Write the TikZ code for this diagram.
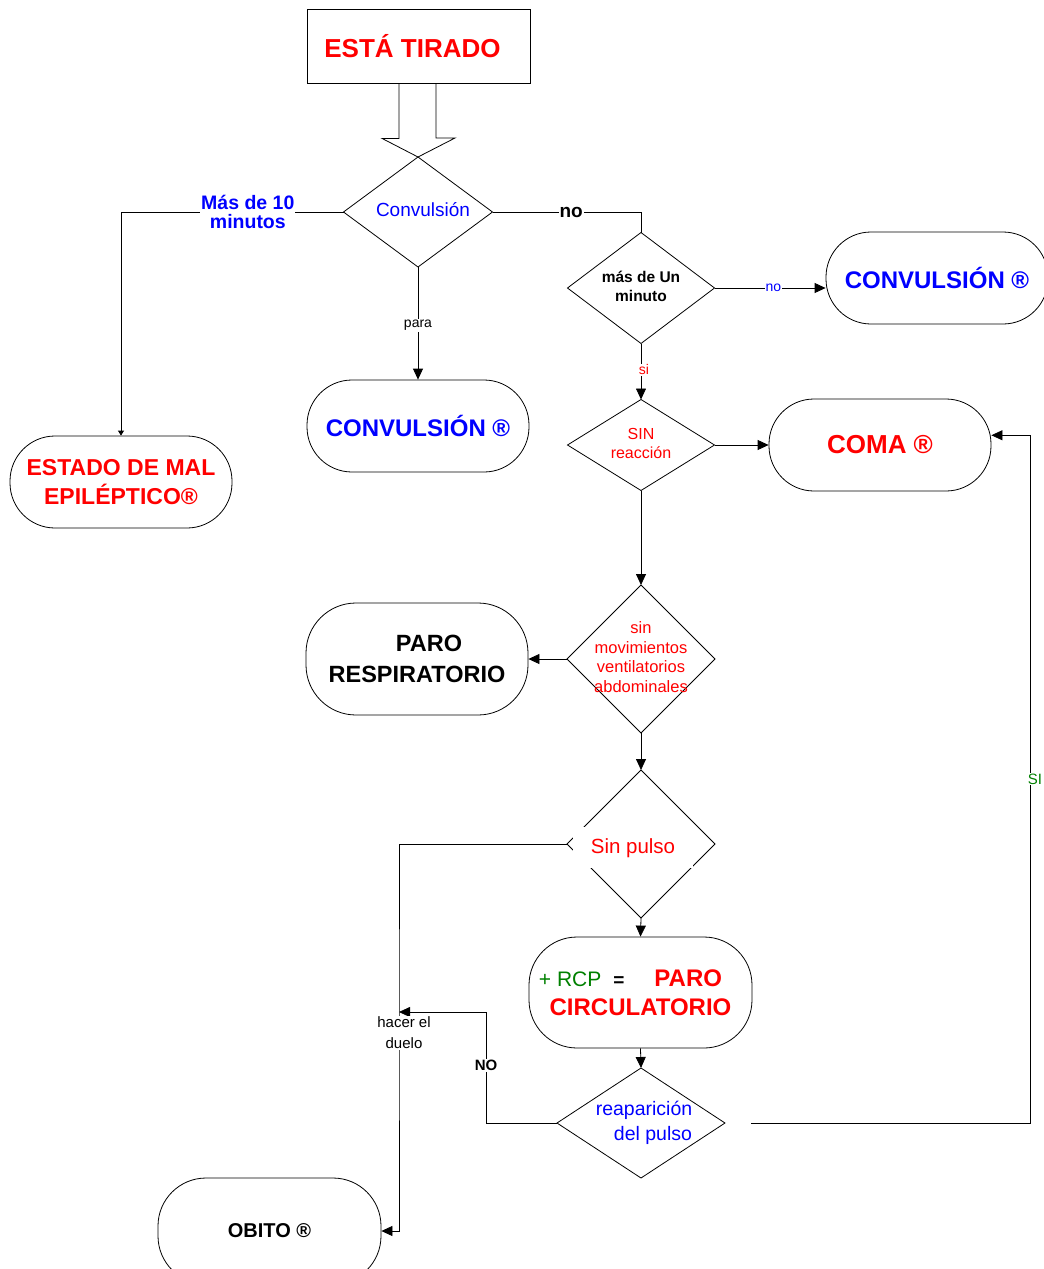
\documentclass[tikz,border=0pt]{standalone}
\usepackage{fontspec}
\setmainfont{Liberation Sans}
\usepackage{xcolor}
\usetikzlibrary{shapes.geometric,arrows.meta}
\definecolor{dkgreen}{RGB}{0, 128, 0}
\newcommand{\dtext}[1]{\makebox[0pt]{\begin{tabular}{@{}c@{}}#1\end{tabular}}}

\begin{document}
\begin{tikzpicture}[x=1pt,y=1pt,yscale=-1,xscale=1,line width=0.8pt,
  startbox/.style={draw, rectangle, minimum width=223, minimum height=74, inner sep=0pt},
  term/.style={draw, rectangle, rounded corners=45pt, minimum width=222, minimum height=92, inner sep=0pt, align=center, font=\bfseries},
  decision/.style={draw, diamond, inner sep=0pt, outer sep=0pt},
  arr/.style={-{Triangle[length=11pt,width=10pt]}},
  lbl/.style={fill=white, inner sep=1pt, align=center}]
\useasboundingbox (0,0) rectangle (1044,1269);

%Start box and its block arrow
\node[startbox, text=red, font=\fontsize{26}{30}\selectfont\bfseries] (tirado) at (418.5,46) {ESTÁ TIRADO\hspace*{12pt}};
\node[decision, minimum width=149, minimum height=110, text=blue, font=\fontsize{19}{22}\selectfont] (dConv) at (418,212) {\dtext{\hspace*{10pt}Convulsión}};
\draw (tirado.south) ++(-19.5,0) -- ++(0,55) -- ++(-17,0) -- (dConv.north) -- ++(37,-19) -- ++(-19,0) -- ++(0,-55);

%Terminals
\node[term, text=red, font=\fontsize{23}{29}\selectfont\bfseries] (tEstado) at (121,482) {ESTADO DE MAL\\EPILÉPTICO®};
\node[term, text=blue, font=\fontsize{24}{28}\selectfont\bfseries] (tConvA) at (418,426) {CONVULSIÓN ®};
\node[term, text=blue, font=\fontsize{24}{28}\selectfont\bfseries] (tConvB) at (937,278) {CONVULSIÓN ®};
\node[term, text=red, font=\fontsize{26}{30}\selectfont\bfseries] (tComa) at (880,445) {COMA ®};
\node[term, minimum height=112, rounded corners=50pt, font=\fontsize{23.5}{31}\selectfont\bfseries] (tResp) at (417,659) {\hspace*{24pt}PARO\\RESPIRATORIO};
\node[term, minimum width=223, minimum height=111, rounded corners=48pt, text=red, font=\fontsize{24}{29}\selectfont\bfseries] (tCirc) at (640.5,992.5) {{\color{dkgreen}\mdseries\fontsize{21}{29}\selectfont + RCP}\hspace{12pt}{\color{black}\fontsize{19}{29}\selectfont =}\hspace{30pt}PARO\hspace*{20pt}\\CIRCULATORIO};
\node[term, minimum width=223, minimum height=106, rounded corners=48pt, font=\fontsize{20}{24}\selectfont\bfseries] (tObito) at (269.5,1231) {OBITO ®};

%Decisions
\node[decision, minimum width=147, minimum height=111, font=\fontsize{15.5}{19}\selectfont\bfseries] (dMin) at (641,288) {\dtext{más de Un\\minuto}};
\node[decision, minimum width=147, minimum height=91, text=red, font=\fontsize{16}{19}\selectfont] (dSin) at (641,445) {\dtext{SIN\\reacción}};
\node[decision, minimum width=148, minimum height=148, text=red, font=\fontsize{16.5}{19.5}\selectfont] (dMov) at (641,659) {\dtext{sin\\movimientos\\ventilatorios\\abdominales}};
\node[decision, minimum width=148, minimum height=148, text height=0pt, text depth=0pt, text=red, font=\fontsize{20.5}{24}\selectfont] (dPulso) at (641,844) {\makebox[0pt]{\hspace*{-16pt}\raisebox{-9pt}{\setlength{\fboxsep}{11pt}\colorbox{white}{\makebox[98pt]{Sin pulso}}}}};
\node[decision, minimum width=168, minimum height=110, text=blue, font=\fontsize{19.5}{25}\selectfont] (dReap) at (641,1123) {\dtext{\hspace*{6pt}reaparición\\\hspace*{24pt}del pulso}};

\coordinate (cDuelo) at (399,1012);
\coordinate (cSi) at (1030,1123);

%Connectors
\draw[-{Triangle[length=5pt,width=6pt]}] (dConv.west) -| node[lbl, pos=0.215, text=blue, font=\fontsize{19.5}{19}\selectfont\bfseries] (lMas) {Más de 10\\minutos} (tEstado.north);
\draw[arr] (dConv.south) -- node[lbl, pos=0.52, font=\fontsize{14}{16}\selectfont] (lPara) {para} (tConvA.north);
\draw (dConv.east) -| node[lbl, pos=0.265, font=\fontsize{19}{20}\selectfont\bfseries] (lNo) {no} (dMin.north);
\draw[arr] (dMin.east) -- node[lbl, pos=0.53, text=blue, font=\fontsize{14}{16}\selectfont] (lNoB) {no} (dMin.east -| tConvB.west);
\draw[arr] (dMin.south) -- node[lbl, pos=0.47, xshift=3, text=red, font=\fontsize{14}{16}\selectfont] (lSi) {si} (dSin.north);
\draw[arr] (dSin.east) -- (tComa.west);
\draw[arr] (dSin.south) -- (dMov.north);
\draw[arr] (dMov.west) -- (tResp.east);
\draw[arr] (dMov.south) -- (dPulso.north);
\draw[arr] (dPulso.south) -- (tCirc.north);
\draw[arr] (tCirc.south) -- (dReap.north);
\draw[arr] (dPulso.west) -| (cDuelo) |- (tObito.east);
\draw[arr] (dReap.west) -- ++(-71,0) |- node[lbl, pos=0.26, font=\fontsize{15}{16}\selectfont\bfseries] (lNoC) {NO} (cDuelo);
\draw[arr, shorten <=26pt] (dReap.east) -- (cSi) |- node[lbl, pos=0.25, xshift=5, text=dkgreen, font=\fontsize{15}{16}\selectfont] (lSiB) {SI} (tComa.5);

% Text Node
\node[lbl, font=\fontsize{15}{21}\selectfont] (lDuelo) at (404,1033) {hacer el\\duelo};

\end{tikzpicture}
\end{document}
